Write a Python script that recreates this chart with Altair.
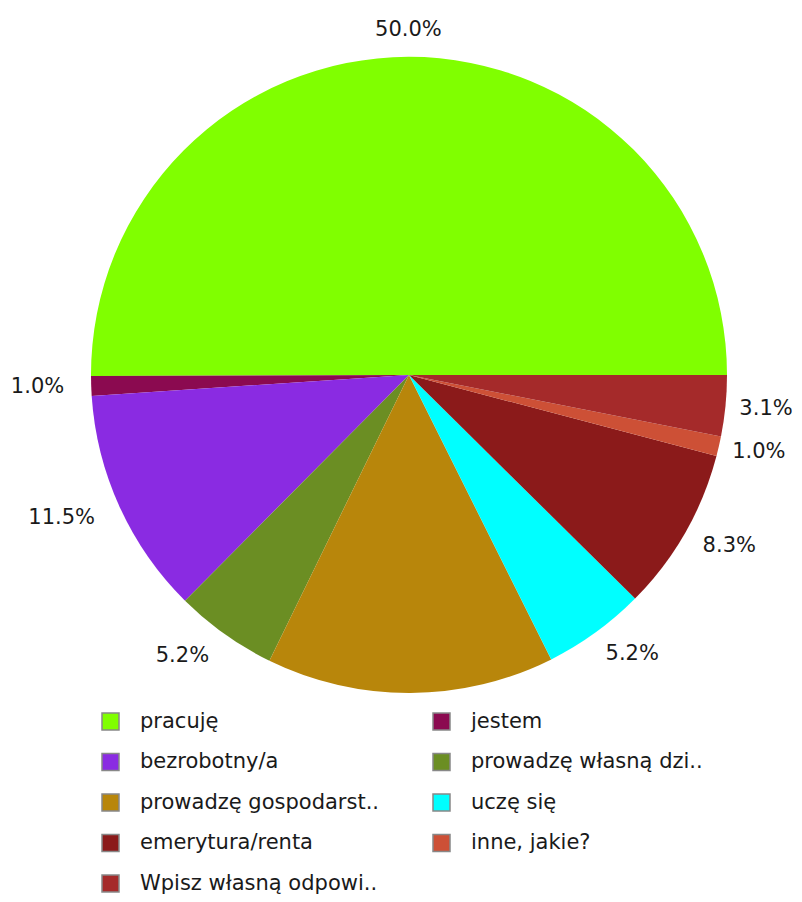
import math
import altair as alt
import pandas as pd

categories = ["pracuję", "jestem", "bezrobotny/a", "prowadzę własną dzi..",
              "prowadzę gospodarst..", "uczę się", "emerytura/renta",
              "inne, jakie?", "Wpisz własną odpowi.."]
values = [50.0, 1.0, 11.5, 5.2, 14.6, 5.2, 8.3, 1.0, 3.1]
labels = ["50.0%", "1.0%", "11.5%", "5.2%", "", "5.2%", "8.3%", "1.0%", "3.1%"]
colors = ["#80ff00", "#8b0a50", "#8a2be2", "#6b8e23", "#b8860b",
          "#00ffff", "#8b1a1a", "#cd5036", "#a52a2a"]

df = pd.DataFrame({"category": categories, "value": values,
                   "label": labels, "order": list(range(len(categories)))})
total = sum(values)

# legend is filled column by column: reorder so it reads row by row
leg_order = [i for c in range(2) for i in range(c, len(categories), 2)]
leg_domain = [categories[i] for i in leg_order]
leg_range = [colors[i] for i in leg_order]

FONT = "DejaVu Sans"
CX, CY = 401, 367

theta_scale = alt.Scale(domain=[0, total], range=[2.5 * math.pi, 0.5 * math.pi])

base = alt.Chart(df).transform_stack(
    stack="value", as_=["v0", "v1"], groupby=[], sort=[alt.SortField("order")]
).transform_calculate(
    mid="(datum.v0 + datum.v1) / 2",
    frac="(datum.v0 + datum.v1) / 2 / %f" % total,
)

arcs = base.mark_arc(outerRadius=318).encode(
    x=alt.value(CX), y=alt.value(CY),
    theta=alt.Theta("v0:Q", stack=None, scale=theta_scale),
    theta2="v1:Q",
    color=alt.Color("category:N", scale=alt.Scale(domain=leg_domain, range=leg_range),
                    legend=alt.Legend(title=None, orient="none", legendX=92, legendY=703,
                                      columns=2, columnPadding=51, rowPadding=17.5,
                                      symbolType="square", symbolSize=289,
                                      symbolStrokeColor="#888888", symbolStrokeWidth=1.5,
                                      labelOffset=19, labelFont=FONT, labelFontSize=21,
                                      labelColor="#1a1a1a", labelLimit=400)),
)

def labels_layer(cond, align, dx=0):
    return base.transform_filter(cond).transform_filter("datum.label != ''").mark_text(
        radius=345, align=align, baseline="middle", font=FONT, fontSize=21,
        color="#1a1a1a", dx=dx
    ).encode(
        x=alt.value(CX), y=alt.value(CY),
        theta=alt.Theta("mid:Q", stack=None, scale=theta_scale),
        text="label:N",
    )

right = labels_layer("datum.frac < 0.24 || (datum.frac > 0.76 && datum.frac < 0.95)", "left", dx=-6)
far_right = labels_layer("datum.frac >= 0.95", "left", dx=-13)
left = labels_layer("datum.frac > 0.26 && datum.frac < 0.74", "right")
top = labels_layer("datum.frac >= 0.24 && datum.frac <= 0.26", "center")

chart = alt.layer(arcs, right, far_right, left, top).properties(
    width=786, height=886, autosize="none", padding=0
).configure_view(stroke=None)

chart.save("out.html", embed_options={"renderer": "svg", "actions": False})
